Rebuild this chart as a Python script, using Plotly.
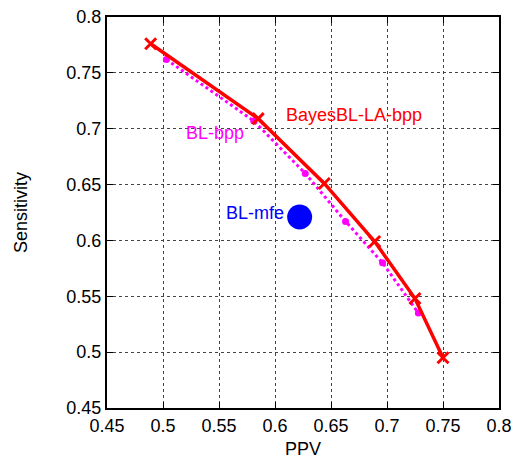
import plotly.graph_objects as go

bayes_ppv = [0.489, 0.585, 0.644, 0.689, 0.725, 0.750]
bayes_sens = [0.776, 0.709, 0.651, 0.599, 0.548, 0.495]
blbpp_ppv = [0.503, 0.581, 0.627, 0.663, 0.696, 0.728]
blbpp_sens = [0.762, 0.707, 0.660, 0.617, 0.580, 0.535]
mfe_ppv = [0.622]
mfe_sens = [0.621]
tick_vals = [0.45, 0.5, 0.55, 0.6, 0.65, 0.7, 0.75, 0.8]
tick_text = ["0.45", "0.5", "0.55", "0.6", "0.65", "0.7", "0.75", "0.8"]

font = "Liberation Sans, Arial, sans-serif"
fs = 18
fig = go.Figure()
fig.add_trace(go.Scatter(x=blbpp_ppv, y=blbpp_sens, mode="lines+markers",
                         line=dict(color="#ff00ff", width=3, dash="dot"),
                         marker=dict(symbol="circle", size=7, color="#ff00ff")))
fig.add_trace(go.Scatter(x=bayes_ppv, y=bayes_sens, mode="lines+markers",
                         line=dict(color="#ff0000", width=3.5),
                         marker=dict(symbol="x-thin", size=11,
                                     line=dict(color="#ff0000", width=3), color="#ff0000")))
fig.add_trace(go.Scatter(x=mfe_ppv, y=mfe_sens, mode="markers",
                         marker=dict(symbol="circle", size=25, color="#0000ff")))

fig.add_annotation(x=0.6705, y=0.7123, text="BayesBL-LA-bpp", showarrow=False,
                   font=dict(color="#ff0000", size=fs, family=font))
fig.add_annotation(x=0.5464, y=0.6961, text="BL-bpp", showarrow=False,
                   font=dict(color="#ff00ff", size=fs, family=font))
fig.add_annotation(x=0.6098, y=0.6245, text="BL-mfe", showarrow=False, xanchor="right",
                   font=dict(color="#0000ff", size=fs, family=font))

ax = dict(showline=True, linecolor="black", linewidth=2, mirror="allticks",
          ticks="inside", ticklen=6, tickcolor="black", tickwidth=1,
          showgrid=True, gridcolor="#444444", griddash="dot", gridwidth=1,
          zeroline=False, automargin=False, tickmode="array",
          tickvals=tick_vals, ticktext=tick_text,
          tickfont=dict(size=fs, color="black", family=font))
fig.update_xaxes(range=[0.45, 0.8],
                 title=dict(text="PPV", font=dict(size=fs, family=font, color="black"), standoff=8), **ax)
fig.update_yaxes(range=[0.45, 0.8],
                 title=dict(text="Sensitivity", font=dict(size=fs, family=font, color="black"), standoff=34), **ax)
fig.update_layout(width=516, height=462, showlegend=False,
                  margin=dict(l=107, r=17, t=17, b=54),
                  plot_bgcolor="white", paper_bgcolor="white")
fig.write_html("out.html", config={"displayModeBar": False},
               post_script="document.body.style.margin='0';document.body.style.overflow='hidden';")
